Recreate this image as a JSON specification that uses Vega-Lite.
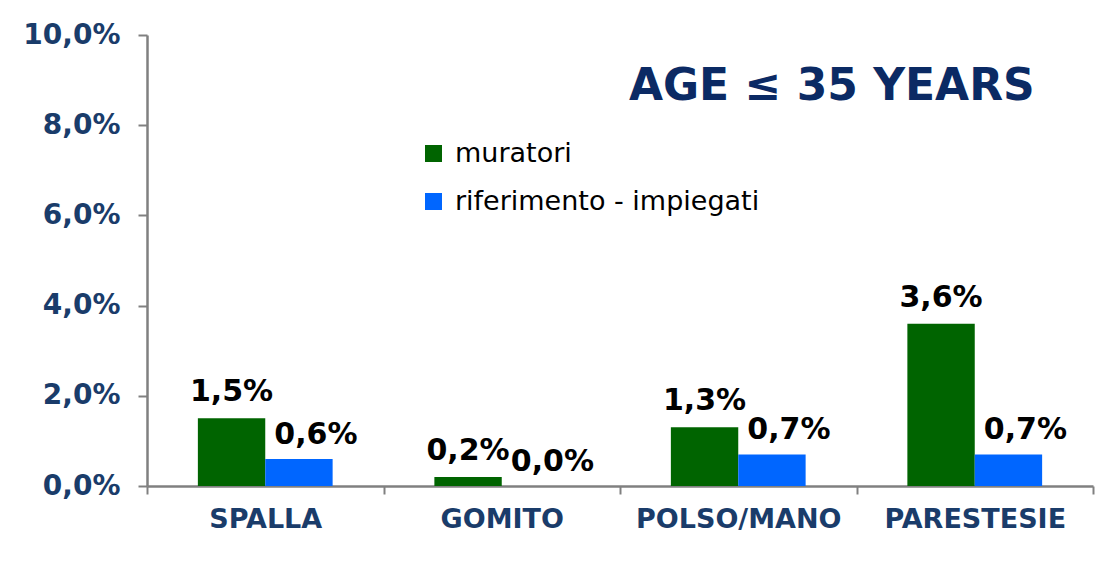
{
  "$schema": "https://vega.github.io/schema/vega-lite/v6.json",
  "width": 946,
  "height": 451,
  "autosize": "none",
  "padding": {"left": 147, "top": 35, "right": 12, "bottom": 93},
  "background": "white",
  "config": {
    "locale": {"number": {"decimal": ",", "thousands": ".", "grouping": [3], "currency": ["€", ""]}},
    "view": {"stroke": null},
    "font": "DejaVu Sans"
  },
  "datasets": {
    "barre": [
      {"categoria": "SPALLA", "gruppo": "muratori", "valore": 0.015},
      {"categoria": "SPALLA", "gruppo": "riferimento - impiegati", "valore": 0.006},
      {"categoria": "GOMITO", "gruppo": "muratori", "valore": 0.002},
      {"categoria": "GOMITO", "gruppo": "riferimento - impiegati", "valore": 0.0},
      {"categoria": "POLSO/MANO", "gruppo": "muratori", "valore": 0.013},
      {"categoria": "POLSO/MANO", "gruppo": "riferimento - impiegati", "valore": 0.007},
      {"categoria": "PARESTESIE", "gruppo": "muratori", "valore": 0.036},
      {"categoria": "PARESTESIE", "gruppo": "riferimento - impiegati", "valore": 0.007}
    ],
    "titolo": [
      {"testo": "AGE ≤ 35 YEARS", "categoria": "PARESTESIE", "valore": 0.0855}
    ]
  },
  "layer": [
    {
      "data": {"name": "barre"},
      "mark": {"type": "bar"},
      "encoding": {
        "x": {
          "field": "categoria",
          "type": "nominal",
          "sort": ["SPALLA", "GOMITO", "POLSO/MANO", "PARESTESIE"],
          "scale": {"paddingInner": 0, "paddingOuter": 0},
          "axis": {
            "title": null,
            "labelAngle": 0,
            "labelLimit": 0,
            "labelFontSize": 27,
            "labelFontWeight": "bold",
            "labelColor": "#1a3c6a",
            "labelPadding": 12,
            "tickBand": "extent",
            "tickSize": 8,
            "tickWidth": 2,
            "tickColor": "#808080",
            "domainColor": "#808080",
            "domainWidth": 2.5
          }
        },
        "xOffset": {
          "field": "gruppo",
          "type": "nominal",
          "sort": ["muratori", "riferimento - impiegati"],
          "scale": {"paddingInner": 0, "paddingOuter": 0.755}
        },
        "y": {
          "field": "valore",
          "type": "quantitative",
          "scale": {"domain": [0, 0.1]},
          "axis": {
            "title": null,
            "values": [0, 0.02, 0.04, 0.06, 0.08, 0.1],
            "format": ".1%",
            "grid": false,
            "labelFontSize": 28,
            "labelFontWeight": "bold",
            "labelColor": "#1a3c6a",
            "labelPadding": 18,
            "tickSize": 9,
            "tickWidth": 2,
            "tickColor": "#808080",
            "domainColor": "#808080",
            "domainWidth": 2.5
          }
        },
        "color": {
          "field": "gruppo",
          "type": "nominal",
          "scale": {"domain": ["muratori", "riferimento - impiegati"], "range": ["#006400", "#0066ff"]},
          "legend": {
            "orient": "none",
            "legendX": 273,
            "legendY": 105,
            "title": null,
            "symbolType": "square",
            "symbolSize": 289,
            "symbolStrokeWidth": 0,
            "labelFontSize": 27,
            "labelFont": "DejaVu Sans",
            "labelColor": "black",
            "labelLimit": 0,
            "labelOffset": 8,
            "rowPadding": 20,
            "padding": 0
          }
        }
      }
    },
    {
      "data": {"name": "barre"},
      "transform": [{"filter": "datum.gruppo === 'muratori'"}],
      "mark": {"type": "text", "dy": -17, "baseline": "alphabetic", "fontSize": 30, "fontWeight": "bold", "color": "black"},
      "encoding": {
        "x": {"field": "categoria", "type": "nominal", "sort": ["SPALLA", "GOMITO", "POLSO/MANO", "PARESTESIE"]},
        "xOffset": {"field": "gruppo", "type": "nominal", "sort": ["muratori", "riferimento - impiegati"]},
        "y": {"field": "valore", "type": "quantitative"},
        "text": {"field": "valore", "type": "quantitative", "format": ".1%"}
      }
    },
    {
      "data": {"name": "barre"},
      "transform": [{"filter": "datum.gruppo !== 'muratori'"}],
      "mark": {"type": "text", "dx": 17, "dy": -15, "baseline": "alphabetic", "fontSize": 30, "fontWeight": "bold", "color": "black"},
      "encoding": {
        "x": {"field": "categoria", "type": "nominal", "sort": ["SPALLA", "GOMITO", "POLSO/MANO", "PARESTESIE"]},
        "xOffset": {"field": "gruppo", "type": "nominal", "sort": ["muratori", "riferimento - impiegati"]},
        "y": {"field": "valore", "type": "quantitative"},
        "text": {"field": "valore", "type": "quantitative", "format": ".1%"}
      }
    },
    {
      "data": {"name": "titolo"},
      "mark": {"type": "text", "align": "right", "dx": 60, "baseline": "alphabetic", "font": "DejaVu Sans", "fontSize": 44, "fontWeight": "bold", "color": "#0b2a64"},
      "encoding": {
        "x": {"field": "categoria", "type": "nominal", "sort": ["SPALLA", "GOMITO", "POLSO/MANO", "PARESTESIE"]},
        "y": {"field": "valore", "type": "quantitative"},
        "text": {"field": "testo", "type": "nominal"}
      }
    }
  ]
}
